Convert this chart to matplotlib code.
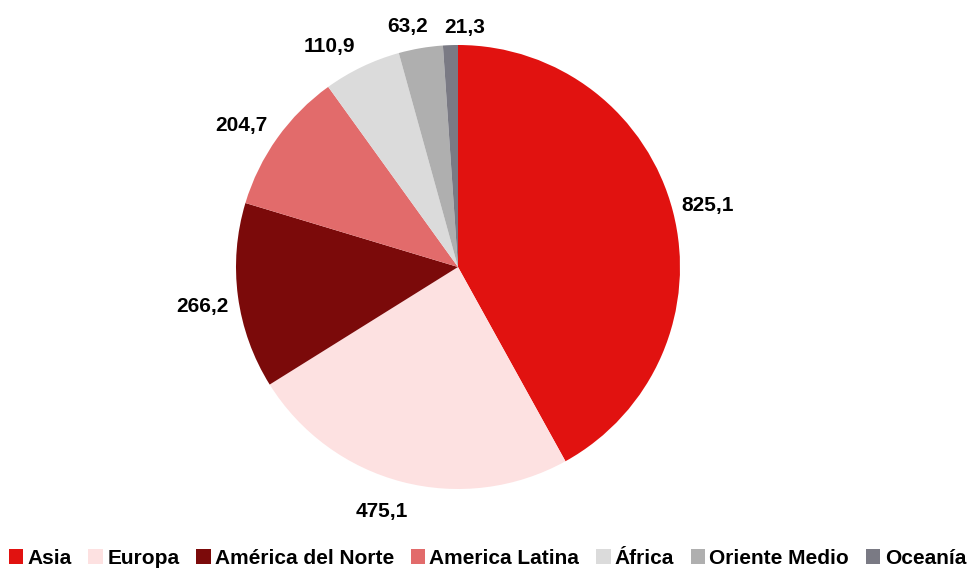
import matplotlib
matplotlib.use("Agg")
import matplotlib.pyplot as plt
from matplotlib.patches import Patch

categories = ["Asia", "Europa", "América del Norte", "America Latina", "África", "Oriente Medio", "Oceanía"]
values = [825.1, 475.1, 266.2, 204.7, 110.9, 63.2, 21.3]
value_labels = ["825,1", "475,1", "266,2", "204,7", "110,9", "63,2", "21,3"]
colors = ["#E11210", "#FDE1E1", "#7B0A0A", "#E26B6B", "#DBDBDB", "#AFAFAF", "#7A7A84"]
# label baseline-centre positions in pie-radius units (style)
label_pos = [(1.124, 0.252), (-0.345, -1.126), (-1.153, -0.203), (-0.975, 0.613),
             (-0.579, 0.968), (-0.225, 1.059), (0.029, 1.054)]

plt.rcParams['font.family'] = ['Liberation Sans', 'DejaVu Sans']

W, H = 969, 570
fig = plt.figure(figsize=(W / 100, H / 100), dpi=100)
cx, cy, r = 458, 267, 222
ax = fig.add_axes([(cx - r) / W, (H - cy - r) / H, 2 * r / W, 2 * r / H])
ax.pie(values, colors=colors, startangle=90, counterclock=False, radius=1,
       wedgeprops=dict(linewidth=0))
ax.set_xlim(-1, 1)
ax.set_ylim(-1, 1)
ax.set_aspect('equal')
ax.axis('off')

for (x, y), lab in zip(label_pos, value_labels):
    ax.text(x, y, lab, ha='center', va='baseline', fontsize=15, fontweight='bold',
            color='black', clip_on=False)

handles = [Patch(facecolor=c, edgecolor='none') for c in colors]
fig.legend(handles, categories, loc='center', bbox_to_anchor=(0.503, 0.021),
           ncol=7, frameon=False, prop=dict(size=15, weight='bold'),
           handlelength=0.7, handleheight=0.7, handletextpad=0.2,
           columnspacing=0.8, borderpad=0, borderaxespad=0)

fig.savefig("out.png", dpi=100)
